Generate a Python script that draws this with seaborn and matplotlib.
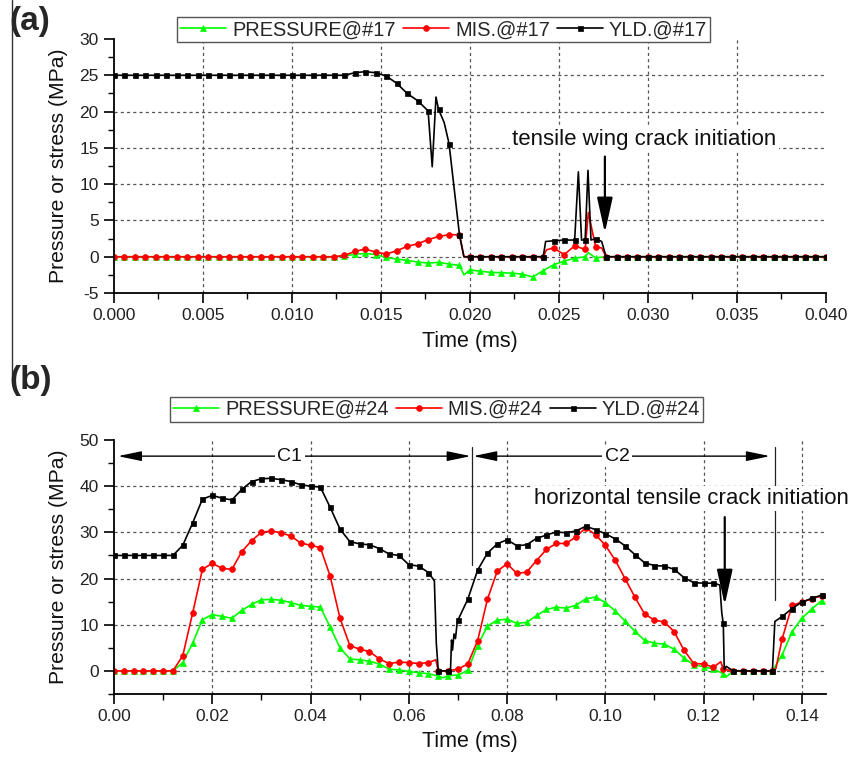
import numpy as np
import matplotlib
matplotlib.use("Agg")
import matplotlib.pyplot as plt
from matplotlib.lines import Line2D
from matplotlib.ticker import MultipleLocator, FormatStrFormatter
import seaborn as sns

# ---------------- gauge #17 (panel a) ----------------
# regular samples every 0.04/68 ms (69 samples, each drawn with a symbol)
n_a = 69
step_a = 0.04 / 68
pressure_17 = [
    0.0, 0.0, 0.0, 0.0, 0.0, 0.0, 0.0, 0.0, 0.0, 0.0, 0.0, 0.0, 0.0, 0.0, 0.0, 0.0,
    0.0, 0.0, 0.0, 0.0, 0.0, 0.0, 0.1, 0.35, 0.45, 0.3, -0.1, -0.32, -0.5, -0.73, -0.87,
    -0.78, -1.0, -1.2, -1.8, -2.0, -2.15, -2.2, -2.25, -2.4, -2.8, -1.9, -1.1, -0.6, -0.2,
    0.0, -0.15, 0.0, 0.0, 0.0, 0.0, 0.0, 0.0, 0.0, 0.0, 0.0, 0.0, 0.0, 0.0, 0.0, 0.0,
    0.0, 0.0, 0.0, 0.0, 0.0, 0.0, 0.0, 0.0,
]
mis_17 = [
    0.0, 0.0, 0.0, 0.0, 0.0, 0.0, 0.0, 0.0, 0.0, 0.0, 0.0, 0.0, 0.0, 0.0, 0.0, 0.0,
    0.0, 0.0, 0.0, 0.0, 0.0, 0.0, 0.18, 0.73, 1.05, 0.64, 0.37, 0.82, 1.42, 1.79, 2.34,
    2.8, 3.03, 3.03, 0.0, 0.0, 0.0, 0.0, 0.0, 0.0, 0.0, 0.0, 1.2, 0.3, 1.5,
    1.0, 1.4, 0.0, 0.0, 0.0, 0.0, 0.0, 0.0, 0.0, 0.0, 0.0, 0.0, 0.0, 0.0, 0.0, 0.0,
    0.0, 0.0, 0.0, 0.0, 0.0, 0.0, 0.0, 0.0,
]
yld_17 = [
    25.0, 25.0, 25.0, 25.0, 25.0, 25.0, 25.0, 25.0, 25.0, 25.0, 25.0, 25.0, 25.0, 25.0,
    25.0, 25.0, 25.0, 25.0, 25.0, 25.0, 25.0, 25.0, 25.0, 25.35, 25.5, 25.35, 24.9, 23.9,
    22.5, 21.5, 20.1, 20.3, 15.6, 3.0, 0.0, 0.0, 0.0, 0.0, 0.0, 0.0, 0.0, 0.0, 2.2, 2.3,
    2.3, 2.3, 2.5, 0.0, 0.0, 0.0, 0.0, 0.0, 0.0, 0.0, 0.0, 0.0, 0.0, 0.0, 0.0, 0.0, 0.0,
    0.0, 0.0, 0.0, 0.0, 0.0, 0.0, 0.0, 0.0,
]
# additional samples between symbols (sharp transitions and spikes)
pressure_17_xt = [0.01966, 0.02665]
pressure_17_xv = [-2.5, 0.55]
mis_17_xt = [0.01966, 0.02430, 0.02665, 0.02740]
mis_17_xv = [0.0, 0.96, 6.1, 1.2]
yld_17_xt = [0.01788, 0.01809, 0.01855, 0.01966, 0.02425, 0.02609, 0.02627,
             0.02663, 0.02680, 0.02740]
yld_17_xv = [12.4, 22.0, 18.5, 0.0, 2.1, 11.7, 2.3, 11.9, 2.3, 2.1]

# ---------------- gauge #24 (panel b) ----------------
n_b = 73
step_b = 0.002
pressure_24 = [
    0.0, 0.0, 0.0, 0.0, 0.0, 0.0, 0.0, 1.8, 6.0, 11.1, 12.2, 11.8, 11.4, 13.1, 14.4,
    15.4, 15.5, 15.3, 14.8, 14.2, 14.0, 13.8, 9.5, 5.0, 2.6, 2.4, 2.1, 1.5, 0.4, 0.2,
    -0.1, -0.4, -0.6, -1.1, -1.0, -0.9, 0.1, 5.5, 9.7, 11.0, 11.2, 10.3, 10.5, 12.0,
    13.3, 13.8, 13.6, 14.2, 15.6, 16.0, 14.8, 13.0, 10.8, 8.6, 6.6, 6.0, 5.8, 4.7, 2.8,
    1.3, 0.9, 0.4, -0.6, 0.0, 0.0, 0.0, 0.0, 0.0, 3.5, 8.5, 11.4, 13.4, 15.2,
]
mis_24 = [
    0.0, 0.0, 0.0, 0.0, 0.0, 0.0, 0.0, 3.3, 12.5, 22.0, 23.3, 22.2, 22.0, 25.8, 28.2,
    30.0, 30.3, 29.9, 29.2, 27.7, 27.2, 26.7, 20.5, 11.4, 5.5, 4.7, 4.2, 2.6, 1.6, 1.9,
    1.8, 1.6, 1.8, 0.0, 0.0, 0.4, 1.5, 6.5, 15.5, 21.6, 23.2, 21.1, 21.4, 23.9,
    26.3, 27.6, 27.6, 29.0, 31.0, 29.5, 27.2, 24.0, 20.0, 16.0, 12.3, 11.0, 10.6, 8.5,
    4.5, 1.6, 1.5, 0.8, 0.4, 0.0, 0.0, 0.0, 0.0, 0.0, 7.0, 14.2, 14.9, 15.6, 16.3,
]
yld_24 = [
    25.0, 25.0, 25.0, 25.0, 25.0, 25.0, 25.0, 27.2, 32.0, 37.2, 38.0, 37.4, 37.0, 39.3,
    41.0, 41.6, 41.7, 41.4, 41.0, 40.3, 40.0, 39.8, 35.4, 30.7, 28.0, 27.5, 27.3, 26.5,
    25.3, 25.0, 23.0, 22.7, 21.3, 0.0, 0.0, 11.0, 15.5, 21.8, 25.5, 27.5, 28.4, 27.1,
    27.3, 28.7, 29.4, 30.1, 29.9, 30.3, 31.3, 30.6, 29.7, 28.6, 27.1, 25.2, 23.4, 22.8,
    22.7, 22.0, 20.2, 19.1, 19.0, 19.0, 10.3, 0.0, 0.0, 0.0, 0.0, 0.0, 11.8, 13.5, 14.9,
    15.7, 16.4,
]
pressure_24_xt = [0.0670, 0.1247]
pressure_24_xv = [-1.5, -1.2]
mis_24_xt = [0.0655, 0.1235, 0.1347]
mis_24_xv = [2.4, 2.0, 0.5]
yld_24_xt = [0.0652, 0.0656, 0.0685, 0.0687, 0.0689, 0.0692, 0.0695, 0.0698,
             0.1233, 0.1237, 0.1242, 0.1246, 0.1345]
yld_24_xv = [19.5, 6.0, 0.5, 6.7, 4.5, 8.0, 7.0, 10.0, 18.6, 12.5, 0.3, 1.0, 10.7]

names_17 = ["PRESSURE@#17", "MIS.@#17", "YLD.@#17"]
names_24 = ["PRESSURE@#24", "MIS.@#24", "YLD.@#24"]

colors = ["#00ff00", "#ff0000", "#000000"]
markers = ["^", "o", "s"]
msizes = [4.5, 4.2, 3.6]

sns.set_theme(style="white")
plt.rcParams["font.family"] = ["Liberation Sans", "DejaVu Sans"]
plt.rcParams["axes.unicode_minus"] = False

fig = plt.figure(figsize=(8.5, 7.57), dpi=100)
ax_a = fig.add_axes([0.1341, 0.6129, 0.8376, 0.3356])
ax_b = fig.add_axes([0.1341, 0.0832, 0.8382, 0.3356])


def draw_series(ax, t, vals, xt, xv, name, color, marker, ms):
    tt = np.concatenate([np.asarray(t, float), np.asarray(xt, float)])
    vv = np.concatenate([np.asarray(vals, float), np.asarray(xv, float)])
    order = np.argsort(tt, kind="stable")
    sym_idx = [int(i) for i in np.where(order < len(t))[0]]
    sns.lineplot(x=tt[order], y=vv[order], ax=ax, color=color, linewidth=1.2,
                 marker=marker, markersize=ms, markevery=sym_idx,
                 markeredgecolor=color, markeredgewidth=0.5,
                 estimator=None, sort=False, label=name)


def style_axes(ax, xlim, ylim, xmaj, xmin, ymaj, ymin, xfmt, grid_x, grid_y):
    ax.set_xlim(*xlim)
    ax.set_ylim(*ylim)
    for s in ["top", "right"]:
        ax.spines[s].set_visible(False)
    for s in ["left", "bottom"]:
        ax.spines[s].set_color("black")
        ax.spines[s].set_linewidth(1.3)
    ax.xaxis.set_major_locator(MultipleLocator(xmaj))
    ax.xaxis.set_minor_locator(MultipleLocator(xmin))
    ax.yaxis.set_major_locator(MultipleLocator(ymaj))
    ax.yaxis.set_minor_locator(MultipleLocator(ymin))
    ax.xaxis.set_major_formatter(FormatStrFormatter(xfmt))
    ax.yaxis.set_major_formatter(FormatStrFormatter("%d"))
    ax.tick_params(which="major", direction="out", length=7, width=1.2,
                   labelsize=12.5, pad=4, left=True, bottom=True, colors="black")
    ax.tick_params(which="minor", direction="out", length=4, width=1.0,
                   left=True, bottom=True, colors="black")
    for tick in ax.get_xticklabels() + ax.get_yticklabels():
        tick.set_color("#222222")
    for gx in grid_x:
        ax.axvline(gx, color="#555555", lw=0.9, ls=(0, (2.5, 2.5)), zorder=0.5)
    for gy in grid_y:
        ax.axhline(gy, color="#555555", lw=0.9, ls=(0, (2.5, 2.5)), zorder=0.5)
    ax.set_xlabel("Time (ms)", fontsize=15.5, color="#111111")
    ax.set_ylabel("Pressure or stress (MPa)", fontsize=15.2, color="#111111")
    ax.yaxis.set_label_coords(-0.064, 0.5)


def add_legend(ax, cx, cy):
    handles, labels = ax.get_legend_handles_labels()
    leg = ax.legend(handles, labels, loc="center", bbox_to_anchor=(cx, cy),
                    bbox_transform=fig.transFigure, ncol=3, frameon=True,
                    fancybox=False, edgecolor="#555555", framealpha=1,
                    fontsize=14.4, handlelength=2.3, handletextpad=0.3,
                    columnspacing=0.35, borderpad=0.15, numpoints=1,
                    borderaxespad=0)
    leg.get_frame().set_linewidth(1.0)
    leg.set_zorder(10)


# ---------- panel (a) ----------
t_a = np.arange(n_a) * step_a
for vals, xt, xv, name, c, m, ms in zip(
        [pressure_17, mis_17, yld_17],
        [pressure_17_xt, mis_17_xt, yld_17_xt],
        [pressure_17_xv, mis_17_xv, yld_17_xv],
        names_17, colors, markers, msizes):
    draw_series(ax_a, t_a, vals, xt, xv, name, c, m, ms)

style_axes(ax_a, (0, 0.040), (-5, 30), 0.005, 0.0025, 5, 2.5, "%.3f",
           [0.005, 0.010, 0.015, 0.020, 0.025, 0.030, 0.035],
           [0, 5, 10, 15, 20, 25])
ax_a.xaxis.set_label_coords(0.5, -0.148)
add_legend(ax_a, 0.522, 0.9604)

ax_a.text(0.0298, 16.1, "tensile wing crack initiation", ha="center",
          va="center", fontsize=16, color="#111111", zorder=4,
          bbox=dict(fc="white", ec="none", pad=1.5))
ax_a.annotate("", xy=(0.02758, 3.3), xytext=(0.02758, 13.8),
              arrowprops=dict(arrowstyle="-|>,head_length=1.8,head_width=0.4",
                              color="black", lw=1.6, shrinkA=0, shrinkB=0),
              zorder=5)

# ---------- panel (b) ----------
t_b = np.arange(n_b) * step_b
for vals, xt, xv, name, c, m, ms in zip(
        [pressure_24, mis_24, yld_24],
        [pressure_24_xt, mis_24_xt, yld_24_xt],
        [pressure_24_xv, mis_24_xv, yld_24_xv],
        names_24, colors, markers, msizes):
    draw_series(ax_b, t_b, vals, xt, xv, name, c, m, ms)

style_axes(ax_b, (0, 0.145), (-5, 50), 0.02, 0.01, 10, 5, "%.2f",
           [0.02, 0.04, 0.06, 0.08, 0.10, 0.12, 0.14],
           [0, 10, 20, 30, 40])
ax_b.xaxis.set_label_coords(0.5, -0.144)
add_legend(ax_b, 0.5135, 0.459)

# cycle boundaries and cycle spans
for xb, ytop, ybot in [(0.0728, 48.5, 23.0), (0.1345, 48.5, 15.4)]:
    ax_b.plot([xb, xb], [ytop, ybot], color="#222222", lw=0.9, zorder=3)
for x0, x1, lab in [(0.0008, 0.0726, "C1"), (0.0731, 0.1335, "C2")]:
    ax_b.annotate("", xy=(x0, 46.5), xytext=(x1, 46.5),
                  arrowprops=dict(arrowstyle="<|-|>,head_length=1.2,head_width=0.25",
                                  color="black", lw=1.0, shrinkA=0, shrinkB=0),
                  zorder=3)
    ax_b.text((x0 + x1) / 2 - 0.0009, 46.5, lab, ha="center", va="center",
              fontsize=14, color="#111111", zorder=4,
              bbox=dict(fc="white", ec="none", pad=2))

ax_b.text(0.1175, 37.4, "horizontal tensile crack initiation", ha="center",
          va="center", fontsize=16, color="#111111", zorder=4,
          bbox=dict(fc="white", ec="none", pad=1.5))
ax_b.annotate("", xy=(0.1243, 14.3), xytext=(0.1243, 33.3),
              arrowprops=dict(arrowstyle="-|>,head_length=1.8,head_width=0.4",
                              color="black", lw=1.6, shrinkA=0, shrinkB=0),
              zorder=5)

# panel letters and the left frame rule
fig.text(0.011, 0.972, "(a)", fontsize=24, fontweight="bold", ha="left", va="center")
fig.text(0.011, 0.498, "(b)", fontsize=24, fontweight="bold", ha="left", va="center")
fig.add_artist(Line2D([0.0141, 0.0141], [0.498, 1.0], transform=fig.transFigure,
                      color="#333333", lw=1.0))

fig.savefig("out.png", dpi=100)
